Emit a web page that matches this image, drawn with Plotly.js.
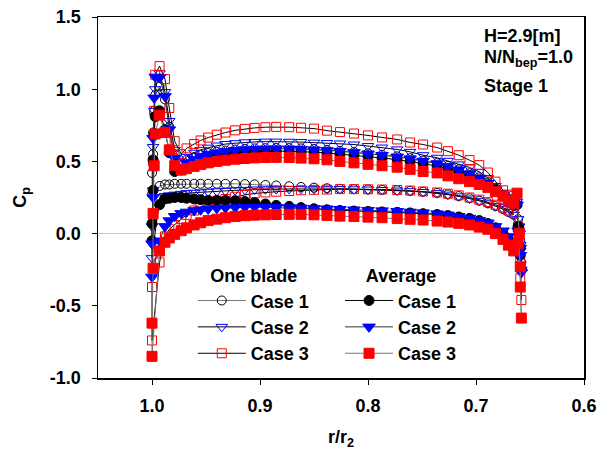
<!DOCTYPE html>
<html>
<head>
<meta charset="utf-8">
<script src="https://cdn.plot.ly/plotly-3.0.1.min.js"></script>
<style>html,body{margin:0;padding:0;background:#fff;}#chart{width:610px;height:454px;}</style>
</head>
<body>
<div id="chart"></div>
<script>
// Measurement tap positions r/r2 (shared by all series)
const xGrid = [0.993, 0.988, 0.984, 0.979, 0.973, 0.968, 0.961, 0.955, 0.948, 0.940, 0.932, 0.923, 0.914, 0.905, 0.895, 0.885, 0.873, 0.862, 0.850, 0.838, 0.826, 0.813, 0.800, 0.787, 0.773, 0.761, 0.749, 0.736, 0.726, 0.716, 0.706, 0.697, 0.689, 0.682, 0.675, 0.670, 0.665];
const xLE = [1.000, 1.000, 0.999, 0.999, 0.998, 0.997];
const xTE = [0.662, 0.660, 0.659, 0.658, 0.659, 0.661];

// One blade, Case 1..3
const ob1Up = [1.02, 0.93, 0.74, 0.55, 0.49, 0.51, 0.53, 0.545, 0.557, 0.567, 0.575, 0.582, 0.587, 0.59, 0.592, 0.593, 0.592, 0.59, 0.586, 0.58, 0.573, 0.565, 0.556, 0.546, 0.535, 0.522, 0.506, 0.488, 0.468, 0.445, 0.418, 0.39, 0.355, 0.31, 0.27, 0.24, 0.22];
const ob1Lo = [0.33, 0.34, 0.34, 0.345, 0.345, 0.345, 0.345, 0.345, 0.345, 0.345, 0.345, 0.345, 0.343, 0.341, 0.337, 0.333, 0.328, 0.323, 0.318, 0.314, 0.31, 0.308, 0.306, 0.303, 0.30, 0.296, 0.29, 0.282, 0.272, 0.26, 0.245, 0.228, 0.21, 0.19, 0.17, 0.15, 0.13];
const ob1LE = [0.27, 0.42, 0.55, 0.70, 0.85, 0.96];
const ob1TE = [0.20, 0.05, -0.10, -0.20, -0.05, 0.10];

const ob2Up = [1.11, 0.98, 0.78, 0.58, 0.50, 0.53, 0.56, 0.58, 0.595, 0.61, 0.62, 0.626, 0.632, 0.635, 0.637, 0.637, 0.636, 0.634, 0.63, 0.627, 0.624, 0.617, 0.606, 0.596, 0.583, 0.566, 0.543, 0.525, 0.504, 0.479, 0.458, 0.428, 0.384, 0.33, 0.28, 0.25, 0.24];
const ob2Lo = [0.25, 0.26, 0.265, 0.27, 0.275, 0.28, 0.283, 0.286, 0.29, 0.293, 0.296, 0.3, 0.303, 0.305, 0.307, 0.308, 0.309, 0.31, 0.31, 0.31, 0.309, 0.307, 0.305, 0.302, 0.298, 0.294, 0.288, 0.28, 0.27, 0.258, 0.243, 0.227, 0.21, 0.19, 0.17, 0.15, 0.13];
const ob2LE = [-0.17, 0.05, 0.30, 0.60, 0.85, 1.00];
const ob2TE = [0.22, 0.05, -0.12, -0.25, -0.08, 0.10];

const ob3Up = [1.16, 1.07, 0.87, 0.64, 0.55, 0.59, 0.62, 0.645, 0.665, 0.685, 0.70, 0.715, 0.725, 0.732, 0.737, 0.739, 0.737, 0.733, 0.727, 0.713, 0.703, 0.693, 0.68, 0.666, 0.652, 0.631, 0.617, 0.596, 0.571, 0.543, 0.509, 0.474, 0.423, 0.36, 0.30, 0.27, 0.26];
const ob3Lo = [-0.2, -0.02, 0.03, 0.06, 0.1, 0.13, 0.16, 0.185, 0.21, 0.225, 0.24, 0.255, 0.268, 0.278, 0.285, 0.29, 0.295, 0.3, 0.303, 0.305, 0.308, 0.308, 0.307, 0.305, 0.302, 0.298, 0.292, 0.285, 0.276, 0.265, 0.25, 0.235, 0.218, 0.2, 0.18, 0.16, 0.14];
const ob3LE = [-0.74, -0.37, 0.13, 0.50, 0.85, 1.10];
const ob3TE = [0.25, 0.00, -0.31, -0.46, -0.20, 0.05];

// Average, Case 1..3
const av1Up = [0.85, 0.72, 0.56, 0.43, 0.44, 0.47, 0.495, 0.515, 0.53, 0.542, 0.552, 0.56, 0.565, 0.569, 0.571, 0.572, 0.571, 0.568, 0.564, 0.558, 0.551, 0.543, 0.534, 0.524, 0.512, 0.5, 0.485, 0.467, 0.448, 0.426, 0.4, 0.372, 0.338, 0.3, 0.26, 0.23, 0.21];
const av1Lo = [0.2, 0.24, 0.245, 0.25, 0.25, 0.245, 0.24, 0.235, 0.23, 0.23, 0.23, 0.228, 0.222, 0.215, 0.205, 0.195, 0.188, 0.18, 0.172, 0.165, 0.16, 0.156, 0.153, 0.15, 0.147, 0.143, 0.138, 0.132, 0.125, 0.115, 0.105, 0.09, 0.07, 0.04, 0.0, -0.04, -0.08];
const av1LE = [-0.05, 0.07, 0.30, 0.51, 0.69, 0.81];
const av1TE = [0.20, 0.00, -0.15, -0.25, -0.10, 0.05];

const av2Up = [1.08, 0.95, 0.72, 0.52, 0.46, 0.49, 0.515, 0.535, 0.55, 0.56, 0.57, 0.577, 0.582, 0.585, 0.587, 0.588, 0.587, 0.585, 0.581, 0.576, 0.57, 0.562, 0.553, 0.543, 0.532, 0.519, 0.503, 0.485, 0.465, 0.442, 0.415, 0.385, 0.35, 0.305, 0.265, 0.235, 0.215];
const av2Lo = [-0.05, 0.05, 0.09, 0.12, 0.14, 0.15, 0.16, 0.165, 0.17, 0.175, 0.178, 0.18, 0.182, 0.183, 0.183, 0.182, 0.18, 0.178, 0.175, 0.172, 0.168, 0.165, 0.162, 0.159, 0.155, 0.15, 0.145, 0.138, 0.13, 0.12, 0.108, 0.093, 0.075, 0.05, 0.02, -0.02, -0.06];
const av2LE = [-0.30, -0.07, 0.25, 0.66, 0.94, 1.085];
const av2TE = [0.20, 0.00, -0.15, -0.27, -0.10, 0.02];

const av3Up = [0.82, 0.70, 0.58, 0.47, 0.44, 0.45, 0.465, 0.478, 0.49, 0.50, 0.508, 0.515, 0.52, 0.524, 0.527, 0.528, 0.527, 0.523, 0.518, 0.511, 0.50, 0.49, 0.48, 0.47, 0.46, 0.445, 0.43, 0.42, 0.40, 0.38, 0.36, 0.34, 0.32, 0.29, 0.26, 0.23, 0.21];
const av3Lo = [-0.12, -0.06, -0.03, -0.005, 0.02, 0.04, 0.06, 0.075, 0.09, 0.10, 0.11, 0.118, 0.124, 0.128, 0.13, 0.132, 0.133, 0.133, 0.13, 0.126, 0.121, 0.118, 0.114, 0.11, 0.104, 0.099, 0.094, 0.087, 0.08, 0.071, 0.06, 0.045, 0.03, 0.0, -0.04, -0.08, -0.12];
const av3LE = [-0.85, -0.62, -0.24, 0.14, 0.47, 0.69];
const av3TE = [0.28, 0.00, -0.37, -0.585, -0.23, -0.07];

const caseNames = ['Case 1', 'Case 2', 'Case 3'];
const groupTitles = ['One blade', 'Average'];
const yTickVals = [-1.0, -0.5, 0.0, 0.5, 1.0, 1.5];
const yTickText = ['-1.0', '-0.5', '0.0', '0.5', '1.0', '1.5'];
const xTickVals = [1.0, 0.9, 0.8, 0.7, 0.6];
const xTickText = ['1.0', '0.9', '0.8', '0.7', '0.6'];

function loopX() {
  return [...xGrid.slice().reverse(), ...xLE, ...xGrid, ...xTE];
}
function loopY(up, lo, le, te) {
  return [...lo.slice().reverse(), ...le, ...up, ...te];
}

const series = [
  {name: caseNames[0], up: ob1Up, lo: ob1Lo, le: ob1LE, te: ob1TE, sym: 'circle-open', col: '#000000', size: 9, lc: '#777777', lg: 'legend'},
  {name: caseNames[1], up: ob2Up, lo: ob2Lo, le: ob2LE, te: ob2TE, sym: 'triangle-down-open', col: '#0000ff', size: 10, lc: '#000000', lg: 'legend'},
  {name: caseNames[2], up: ob3Up, lo: ob3Lo, le: ob3LE, te: ob3TE, sym: 'square-open', col: '#ff0000', size: 9, lc: '#000000', lg: 'legend'},
  {name: caseNames[0], up: av1Up, lo: av1Lo, le: av1LE, te: av1TE, sym: 'circle', col: '#000000', size: 10, lc: '#000000', lg: 'legend2'},
  {name: caseNames[1], up: av2Up, lo: av2Lo, le: av2LE, te: av2TE, sym: 'triangle-down', col: '#0000ff', size: 11, lc: '#333333', lg: 'legend2'},
  {name: caseNames[2], up: av3Up, lo: av3Lo, le: av3LE, te: av3TE, sym: 'square', col: '#ff0000', size: 10, lc: '#777777', lg: 'legend2'}
];

const traces = series.map(s => ({
  type: 'scatter',
  mode: 'lines+markers',
  name: s.name,
  legend: s.lg,
  x: loopX(),
  y: loopY(s.up, s.lo, s.le, s.te),
  line: {color: s.lc, width: 1},
  marker: {symbol: s.sym, size: s.size, color: s.col, line: {color: s.col, width: 1}},
  hoverinfo: 'skip'
}));

const FONT = 'Liberation Sans, Arial, sans-serif';

const layout = {
  width: 610, height: 454,
  margin: {l: 98, r: 26, t: 17, b: 76},
  paper_bgcolor: '#ffffff', plot_bgcolor: '#ffffff',
  font: {family: FONT, size: 18, color: '#000000', weight: 'bold'},
  showlegend: true,
  xaxis: {
    range: [1.05, 0.6],
    tickvals: xTickVals, ticktext: xTickText,
    showgrid: false, zeroline: false,
    showline: true, linecolor: '#000000', linewidth: 1.5, mirror: true,
    ticks: 'outside', ticklen: 5, tickwidth: 1, tickcolor: '#000000',
    tickfont: {family: FONT, size: 18, weight: 'bold'},
    ticklabelstandoff: 6,
    title: {text: 'r/r<sub>2</sub>', font: {family: FONT, size: 18, weight: 'bold'}, standoff: 15}
  },
  yaxis: {
    range: [-1.0, 1.5],
    tickvals: yTickVals, ticktext: yTickText,
    showgrid: false,
    zeroline: true, zerolinecolor: '#c8c8c8', zerolinewidth: 1,
    showline: true, linecolor: '#000000', linewidth: 1.5, mirror: true,
    ticks: 'outside', ticklen: 5, tickwidth: 1, tickcolor: '#000000',
    tickfont: {family: FONT, size: 18, weight: 'bold'},
    ticklabelstandoff: 7,
    title: {text: 'C<sub>p</sub>', font: {family: FONT, size: 18, weight: 'bold'}, standoff: 18}
  },
  legend: {
    x: 0.195, y: 0.33, xanchor: 'left', yanchor: 'top',
    bgcolor: 'rgba(0,0,0,0)', borderwidth: 0,
    font: {family: FONT, size: 18, weight: 'bold'},
    title: {text: groupTitles[0], side: 'top center', font: {family: FONT, size: 18, weight: 'bold'}},
    itemwidth: 48, tracegroupgap: 0
  },
  legend2: {
    x: 0.498, y: 0.33, xanchor: 'left', yanchor: 'top',
    bgcolor: 'rgba(0,0,0,0)', borderwidth: 0,
    font: {family: FONT, size: 18, weight: 'bold'},
    title: {text: groupTitles[1], side: 'top center', font: {family: FONT, size: 18, weight: 'bold'}},
    itemwidth: 48, tracegroupgap: 0
  },
  annotations: [
    {xref: 'paper', yref: 'paper', x: 0.79, y: 0.947, xanchor: 'left', yanchor: 'middle', showarrow: false, text: 'H=2.9[m]', font: {family: FONT, size: 18, weight: 'bold'}},
    {xref: 'paper', yref: 'paper', x: 0.79, y: 0.885, xanchor: 'left', yanchor: 'middle', showarrow: false, text: 'N/N<sub>bep</sub>=1.0', font: {family: FONT, size: 18, weight: 'bold'}},
    {xref: 'paper', yref: 'paper', x: 0.79, y: 0.809, xanchor: 'left', yanchor: 'middle', showarrow: false, text: 'Stage 1', font: {family: FONT, size: 18, weight: 'bold'}}
  ]
};

Plotly.newPlot('chart', traces, layout, {displayModeBar: false, staticPlot: true});
</script>
</body>
</html>
